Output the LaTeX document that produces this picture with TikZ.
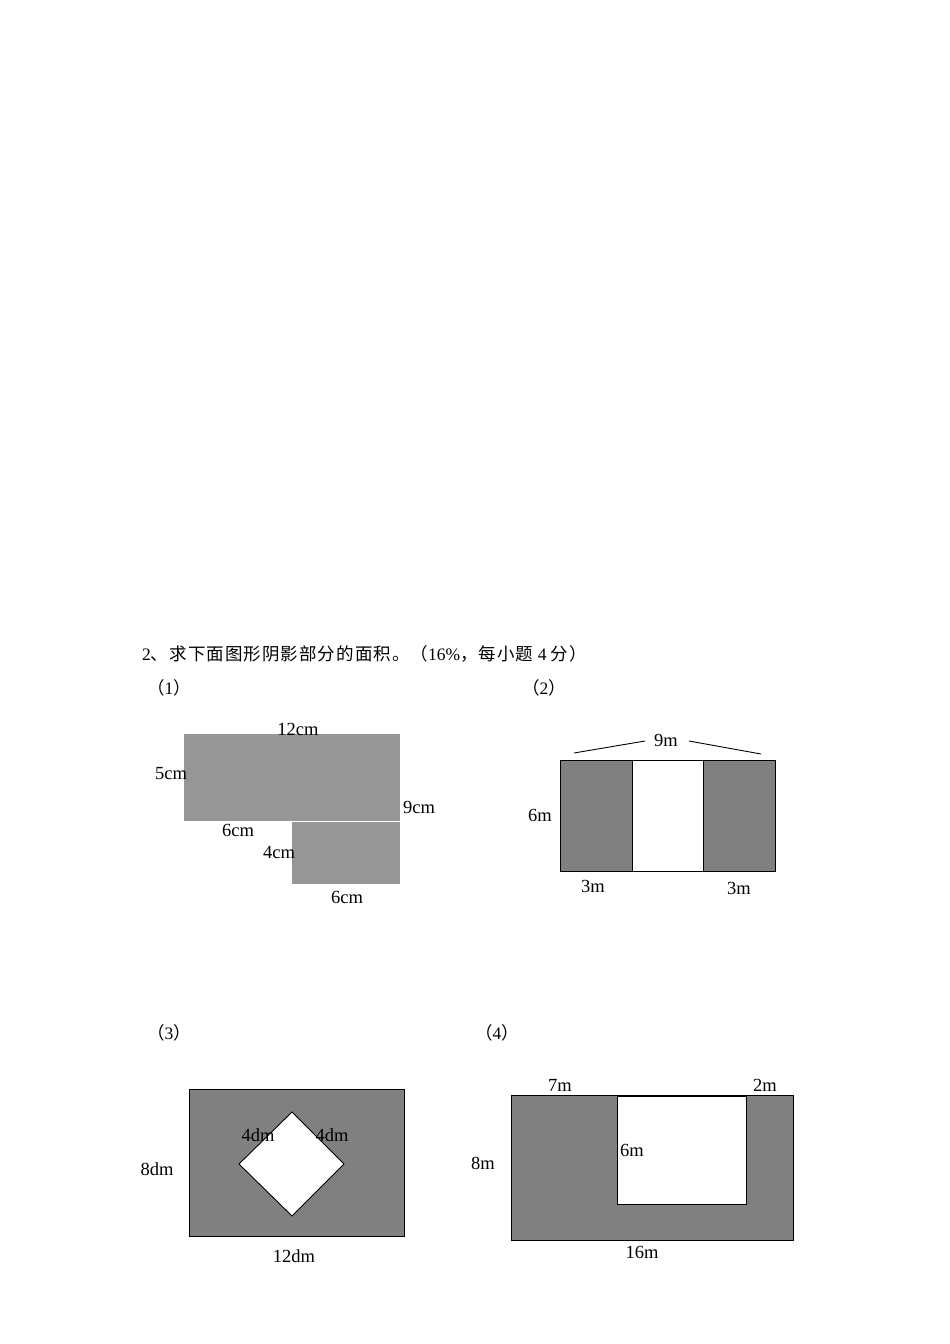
\documentclass[tikz,border=0pt]{standalone}
\usepackage{fontspec}
\setmainfont{Liberation Serif}
\newfontfamily\cjk[LetterSpace=6]{Noto Sans CJK SC}
\newcommand{\lat}[1]{{\rmfamily #1}}
\begin{document}
\begin{tikzpicture}[x=1pt,y=-1pt,
  lbl/.style={font=\fontsize{18.5}{18.5}\selectfont, inner sep=0pt},
  cjkl/.style={font=\cjk\fontsize{17.5}{18}\selectfont, inner sep=0pt, anchor=west},
  darkbox/.style={fill=gray2, draw=black, line width=0.9pt},
  whitebox/.style={fill=white, draw=black, line width=0.9pt}]
\definecolor{gray1}{RGB}{150,150,150}
\definecolor{gray2}{RGB}{128,128,128}
\useasboundingbox (0,0) rectangle (950,1344);
% title
\node[cjkl] (title) at (142,654) {\lat{2}、求下面图形阴影部分的面积。（\lat{16\%}，每小题\lat{ 4 }分）};
\node[cjkl] (p1) at (147,688) {（\lat{1}）};
\node[cjkl] (p2) at (522,688) {（\lat{2}）};
\node[cjkl] (p3) at (147,1033) {（\lat{3}）};
\node[cjkl] (p4) at (475,1033) {（\lat{4}）};
% figure 1
\fill[gray1] (184,734) rectangle (400,821);
\fill[gray1] (292,821.5) rectangle (400,884);
\node[lbl] (a1) at (298,729) {12cm};
\node[lbl] (a2) at (171,774) {5cm};
\node[lbl] (a3) at (419,807) {9cm};
\node[lbl] (a4) at (238,830) {6cm};
\node[lbl] (a5) at (279,852) {4cm};
\node[lbl] (a6) at (347,897) {6cm};
% figure 2
\draw[darkbox] (560,760) rectangle (632,871);
\draw[whitebox] (632,760) rectangle (703,871);
\draw[darkbox] (703,760) rectangle (775,871);
\node[lbl] (b9) at (666,740) {9m};
\coordinate (bl1) at (574,753);
\coordinate (bl2) at (645,741);
\coordinate (br1) at (689,741);
\coordinate (br2) at (761,754);
\draw[line width=0.9pt] (bl1) -- (bl2);
\draw[line width=0.9pt] (br1) -- (br2);
\node[lbl] (b6) at (540,815) {6m};
\node[lbl] (b3a) at (593,886) {3m};
\node[lbl] (b3b) at (739,888) {3m};
% figure 3
\draw[darkbox] (189,1089) rectangle (404,1236);
\draw[whitebox] (292,1112) -- (344,1164) -- (292,1216) -- (239,1164) -- cycle;
\node[lbl] (c1) at (258,1135) {4dm};
\node[lbl] (c2) at (332,1135) {4dm};
\node[lbl] (c3) at (157,1169) {8dm};
\node[lbl] (c4) at (294,1256) {12dm};
% figure 4
\draw[darkbox] (511,1095) rectangle (793,1240);
\draw[whitebox] (617,1096) rectangle (746,1204);
\draw[line width=0.9pt] (511,1095) -- (793,1095);
\node[lbl] (d1) at (560,1085) {7m};
\node[lbl] (d2) at (765,1085) {2m};
\node[lbl] (d3) at (632,1150) {6m};
\node[lbl] (d4) at (483,1163) {8m};
\node[lbl] (d5) at (642,1252) {16m};
\end{tikzpicture}
\end{document}
